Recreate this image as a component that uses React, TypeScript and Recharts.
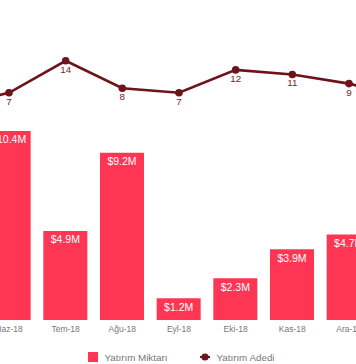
import React from 'react';
import {
  Bar,
  ComposedChart,
  LabelList,
  Legend,
  Line,
  XAxis,
  YAxis,
} from 'recharts';

const months = ['May-18', 'Haz-18', 'Tem-18', 'Ağu-18', 'Eyl-18', 'Eki-18', 'Kas-18', 'Ara-18', 'Oca-19'];
const amounts = [3.4, 10.4, 4.9, 9.2, 1.2, 2.3, 3.9, 4.7, 2.8];
const counts = [4, 7, 14, 8, 7, 12, 11, 9, 6];
const legendOrder = ['Yatırım Miktarı', 'Yatırım Adedi'];

const data = months.map((month, i) => ({
  month,
  amount: amounts[i],
  count: counts[i],
}));

const barColor = '#ff3653';
const lineColor = '#6d1319';

const renderLegend = (props: any) => {
  const payload = [...(props.payload || [])].sort(
    (a: any, b: any) => legendOrder.indexOf(a.value) - legendOrder.indexOf(b.value)
  );
  return (
    <div
      style={{
        display: 'flex',
        justifyContent: 'center',
        alignItems: 'center',
        gap: 33,
        height: 14,
        paddingLeft: 6,
      }}
    >
      {payload.map((entry: any) => (
        <div
          key={entry.value}
          style={{ display: 'flex', alignItems: 'center', gap: 6, fontSize: 9.8, color: '#777' }}
        >
          <svg width="10" height="10">
            {entry.type === 'rect' ? (
              <rect width="10" height="10" fill={barColor} />
            ) : (
              <>
                <line x1="0" y1="5" x2="10" y2="5" stroke={lineColor} strokeWidth="2" />
                <circle cx="5" cy="5" r="3.6" fill={lineColor} />
              </>
            )}
          </svg>
          {entry.value}
        </div>
      ))}
    </div>
  );
};

function App() {
  return (
    <div
      style={{
        position: 'absolute',
        left: 0,
        top: 0,
        width: 356,
        height: 364,
        overflow: 'hidden',
        background: '#fff',
        fontFamily: '"Liberation Sans", Arial, sans-serif',
      }}
    >
      <div style={{ position: 'absolute', left: -79.5, top: 0 }}>
        <ComposedChart
          width={516}
          height={364}
          data={data}
          margin={{ top: 10, right: 3, bottom: 0, left: 3 }}
        >
          <XAxis
            dataKey="month"
            axisLine={false}
            tickLine={false}
            tickSize={4}
            interval={0}
            height={30}
            tick={{ fontSize: 8.5, fill: '#777' }}
          />
          <YAxis yAxisId="amt" hide domain={[0, 17.06]} allowDataOverflow />
          <YAxis yAxisId="cnt" hide orientation="right" domain={[-42.7, 25.1]} allowDataOverflow />
          <Bar
            yAxisId="amt"
            dataKey="amount"
            name="Yatırım Miktarı"
            fill={barColor}
            barSize={44}
            legendType="rect"
            isAnimationActive={false}
          >
            <LabelList
              dataKey="amount"
              position="insideTop"
              formatter={(v: any) => `$${v}M`}
              fill="#fff"
              fontSize={10.5}
            />
          </Bar>
          <Line
            yAxisId="cnt"
            dataKey="count"
            name="Yatırım Adedi"
            stroke={lineColor}
            strokeWidth={2.6}
            dot={{ r: 3.8, fill: lineColor, stroke: 'none' }}
            legendType="line"
            isAnimationActive={false}
          >
            <LabelList dataKey="count" position="bottom" fill="#7a2228" fontSize={9.8} />
          </Line>
          <Legend verticalAlign="bottom" content={renderLegend} />
        </ComposedChart>
      </div>
    </div>
  );
}

export default App;
